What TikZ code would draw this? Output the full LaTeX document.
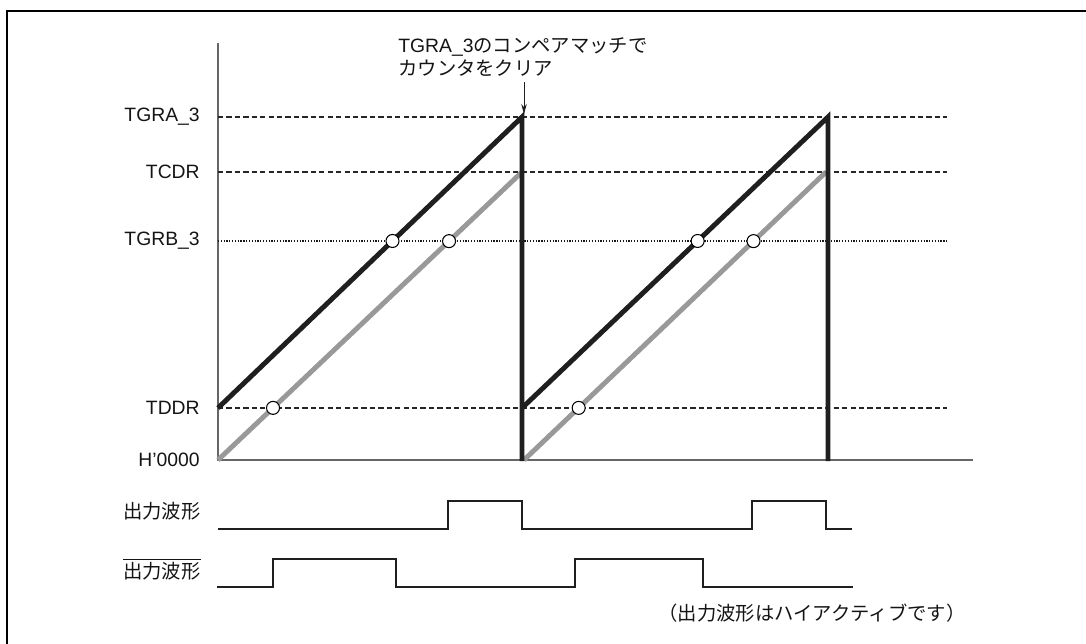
\documentclass[tikz,border=0pt]{standalone}
\usepackage{fontspec}
\setmainfont{Liberation Sans}
\newfontfamily\jpfont{Noto Sans CJK JP}
\usetikzlibrary{arrows.meta,positioning,calc}

\begin{document}
\begin{tikzpicture}[
        x=0.02cm,
        y=-0.02cm,
        labelText/.style={
            font=\fontsize{11}{13}\selectfont,
            text=black!92,
            inner sep=0pt
        },
        levelLabel/.style={
            labelText,
            anchor=east
        },
        axisLine/.style={
            line width=1.1pt,
            draw=black!60
        },
        guideDash/.style={
            line width=0.6pt,
            draw=black!85,
            dash pattern=on 3pt off 1.8pt
        },
        guideDot/.style={
            line width=0.6pt,
            draw=black!90,
            dash pattern=on 0.7pt off 0.9pt
        },
        sawBlack/.style={
            line width=2.8pt,
            draw=black!88
        },
        sawGray/.style={
            line width=2.8pt,
            draw=black!40
        },
        matchPoint/.style={
            circle,
            draw=black,
            fill=white,
            line width=0.6pt,
            minimum size=7.4pt,
            inner sep=0pt
        },
        pulse/.style={
            line width=1.4pt,
            draw=black!88
        },
        pointer/.style={
            -{Stealth[length=2mm,width=1.1mm]},
            line width=0.5pt,
            draw=black!88
        }
    ]

        \useasboundingbox (0,0) rectangle (1086,643);

        % Outer frame
        \draw[line width=1.7pt] (7,660) -- (7,11) -- (1100,11);

        % Axes
        \coordinate (origin) at (218,460);
        \draw[axisLine] (218,43) -- (origin) -- (973,460);

        % Level labels and guide lines
        \node[levelLabel] (lblTGRA) at (200,117) {TGRA\_3};
        \node[levelLabel] (lblTCDR) at (200,172) {TCDR};
        \node[levelLabel] (lblTGRB) at (200,241) {TGRB\_3};
        \node[levelLabel] (lblTDDR) at (200,408) {TDDR};
        \node[levelLabel] (lblZero) at (200,460) {H'0000};

        \foreach \lvl in {117,172,408}
        {
            \draw[guideDash] (218,\lvl) -- (947,\lvl);
        }
        \draw[guideDot] (218,241) -- (948,241);

        % Counter values
        \coordinate (startA) at (218,408);
        \coordinate (peakA) at (522,117);
        \coordinate (startB) at (522,408);
        \coordinate (peakB) at (828,117);
        \coordinate (grayStartA) at (218,460);
        \coordinate (grayEndA) at (522,172);
        \coordinate (grayStartB) at (524,460);
        \coordinate (grayEndB) at (826,172);

        \draw[sawGray] (grayStartA) -- (grayEndA);
        \draw[sawGray] (grayStartB) -- (grayEndB);

        \draw[sawBlack] (startA) -- (peakA) -- (522,461);
        \draw[sawBlack] (startB) -- (peakB) -- (828,461);

        % Compare match points
        \node[matchPoint] (matchA1) at ($(startA)!0.574!(peakA)$) {};
        \node[matchPoint] (matchA2) at ($(grayStartA)!0.760!(grayEndA)$) {};
        \node[matchPoint] (matchA3) at ($(grayStartA)!0.181!(grayEndA)$) {};
        \node[matchPoint] (matchB1) at ($(startB)!0.574!(peakB)$) {};
        \node[matchPoint] (matchB2) at ($(grayStartB)!0.760!(grayEndB)$) {};
        \node[matchPoint] (matchB3) at ($(grayStartB)!0.181!(grayEndB)$) {};

        % Clear annotation
        \node[labelText, anchor=north west, align=left] (clearNote) at (398,37)
            {TGRA\_3{\jpfont のコンペアマッチで}\\{\jpfont カウンタをクリア}};
        \draw[pointer] ($(peakA)+(2,-35)$) -- ($(peakA)+(2,-3)$);

        % Output waveforms
        \node[levelLabel] (lblOut) at (201,511) {\jpfont 出力波形};
        \node[levelLabel] (lblOutInv) at (201,569)
            {$\overline{\hbox{\jpfont 出力波形}}$};

        \draw[pulse] (218,529) -- (448,529) -- (448,501) -- (522,501)
            -- (522,529) -- (752,529) -- (752,501) -- (826,501)
            -- (826,529) -- (852,529);
        \draw[pulse] (217,587) -- (273,587) -- (273,559) -- (396,559)
            -- (396,587) -- (575,587) -- (575,559) -- (703,559)
            -- (703,587) -- (853,587);

        % Polarity note
        \node[labelText] (polarityNote) at (812,613)
            {\jpfont （出力波形はハイアクティブです）};

    \end{tikzpicture}
\end{document}
